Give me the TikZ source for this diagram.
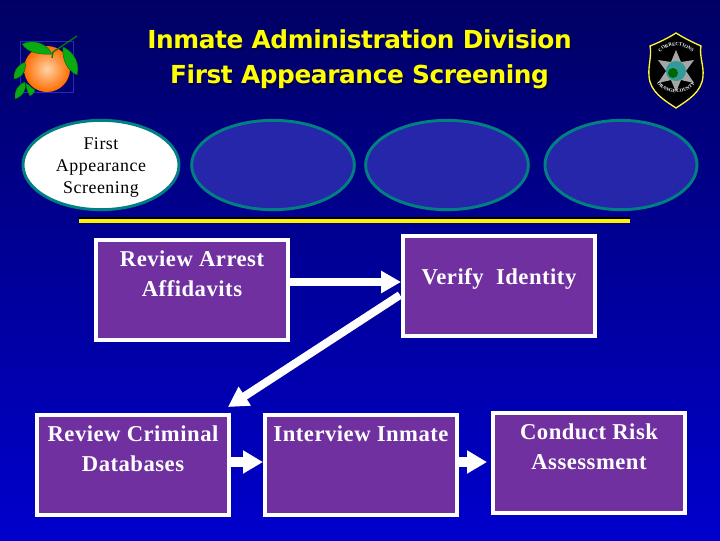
\documentclass[tikz,border=0pt]{standalone}
\usepackage{fontspec}
\setmainfont{Liberation Serif}
\newfontfamily\ttlfont{DejaVu Sans}
\usetikzlibrary{arrows.meta,shadings,decorations.text,calc,shapes.geometric}
\definecolor{bgtop}{RGB}{0,0,100}
\definecolor{bgbot}{RGB}{0,0,205}
\definecolor{boxpurple}{RGB}{112,48,160}
\definecolor{ringteal}{RGB}{0,128,128}
\definecolor{ovalblue}{RGB}{38,38,170}
\definecolor{titleyellow}{RGB}{255,255,0}
\definecolor{leafgreen}{RGB}{10,170,20}
\definecolor{logoblue}{RGB}{40,40,190}
\newcommand{\boxtxt}[2][0pt]{\parbox[c][69pt][t]{141pt}{\centering\vspace*{#1}#2}}
\tikzset{
  x=0.75pt,y=-0.75pt,
  flowbox/.style={draw=white,line width=3pt,fill=boxpurple,text=white,inner sep=0pt,
    minimum width=144pt,minimum height=75pt,font=\fontsize{17}{22}\selectfont\addfontfeature{LetterSpace=2.2}\bfseries},
  oval/.style={draw=ringteal,line width=2.2pt,fill=ovalblue,ellipse,inner sep=0pt},
  ttl/.style={font=\ttlfont\bfseries\fontsize{18.6}{26.5}\selectfont\addfontfeature{LetterSpace=-1.6},align=center},
  bigarrow/.style={draw=white,line width=6pt,-{Triangle[length=15pt,width=16pt,fill=white]}},
  smallarrow/.style={draw=white,line width=7pt,-{Triangle[length=15pt,width=16.5pt,fill=white]}},
  leaf/.style={fill=leafgreen,draw=black!60!green,line width=0.3pt},
}
\begin{document}
\begin{tikzpicture}
\useasboundingbox (0,0) rectangle (720,540);
\shade[top color=bgtop,bottom color=bgbot] (0,0) rectangle (720,540);

% title
\node[ttl,text=black!70!blue] (titleshadow) at (361.5,61.5) {Inmate Administration Division\\First Appearance Screening};
\node[ttl,text=titleyellow] (title) at (359.5,59.5) {Inmate Administration Division\\First Appearance Screening};

% orange logo
\draw[logoblue,line width=0.7pt] (20,41) rectangle (73,92);
\shade[inner color=orange!35!white,outer color=orange!85!red] (47,69) circle (23);
\draw[leaf] (22,44) .. controls (35,38) and (48,45) .. (52,54) .. controls (38,55) and (27,52) .. (22,44);
\draw[leaf] (63,47) .. controls (75,52) and (80,65) .. (77,75) .. controls (66,70) and (62,58) .. (63,47);
\draw[leaf] (25,62) .. controls (16,66) and (13,73) .. (14,79) .. controls (22,78) and (27,70) .. (25,62);
\draw[leaf] (25,82) .. controls (17,85) and (14,92) .. (15,99) .. controls (23,96) and (27,90) .. (25,82);
\draw[leaf] (26,83) .. controls (26,89) and (28,93) .. (30,96) .. controls (33,94) and (35,92) .. (35,90) .. controls (32,88) and (29,85) .. (26,83);
\draw[leafgreen!70!black,line width=1pt] (52,58) -- (53,52) -- (62,46) -- (77,36);

% badge
\draw[fill=black,draw=yellow!80!white,line width=1pt]
  (650,46) .. controls (660,42) and (668,38) .. (676,33) .. controls (684,38) and (692,42) .. (701,46)
  .. controls (699,55) and (704,66) .. (703,76) .. controls (702,92) and (688,100) .. (676,108)
  .. controls (664,100) and (650,92) .. (649,76) .. controls (648,66) and (652,55) .. (650,46) -- cycle;
\fill[black!35!white] (676,50) -- (681,62) -- (694,60) -- (686,71) -- (694,83) -- (681,80) -- (676,92) -- (671,80) -- (658,83) -- (666,71) -- (658,60) -- (671,62) -- cycle;
\fill[ringteal!80!white] (676,71) circle (10);
\fill[green!40!black] (673,73) circle (5);
\path[postaction={decorate,decoration={text along path,text align=center,
  text={|\fontsize{3.6}{4}\selectfont\bfseries\color{white}|CORRECTIONS}}}]
  (658,54) .. controls (668,43) and (684,43) .. (694,54);
\path[postaction={decorate,decoration={text along path,text align=center,
  text={|\fontsize{3.6}{4}\selectfont\bfseries\color{white}|ORANGE COUNTY}}}]
  (657,84) .. controls (666,95) and (686,95) .. (695,84);

% ovals
\node[oval,fill=white,minimum width=117pt,minimum height=67pt,inner sep=-14pt,
  font=\fontsize{13.4}{16.3}\selectfont\addfontfeature{LetterSpace=3}] (o1) at (101,165)
  {\parbox{72pt}{\centering\vspace*{4pt}First\\Appearance\\Screening}};
\node[oval,minimum width=122pt,minimum height=67pt] (o2) at (273,165) {};
\node[oval,minimum width=122pt,minimum height=67pt] (o3) at (447,165) {};
\node[oval,minimum width=114pt,minimum height=67pt] (o4) at (621,165) {};

% rule
\coordinate (ruleL) at (79,221);
\coordinate (ruleR) at (630,221);
\draw[black,line width=3pt] ($(ruleL)+(0,-2)$) -- ($(ruleR)+(0,-2)$);
\draw[yellow,line width=3pt] (ruleL) -- (ruleR);

% boxes
\node[flowbox] (b1) at (192,290) {\boxtxt[5.2pt]{Review Arrest\\Affidavits}};
\node[flowbox] (b2) at (499,286) {\boxtxt[21.5pt]{Verify~ Identity}};
\node[flowbox] (b3) at (133,465) {\boxtxt[5.2pt]{Review Criminal\\Databases}};
\node[flowbox] (b4) at (361,465) {\boxtxt[5.2pt]{Interview Inmate}};
\node[flowbox] (b5) at (589,463) {\boxtxt[5.2pt]{Conduct Risk\\Assessment}};

% connectors
\coordinate (a1s) at (b1.east |- 0,282);
\coordinate (a1e) at (b2.west |- 0,282);
\draw[bigarrow] (a1s) -- (a1e);
\coordinate (a2s) at (400,295);
\coordinate (a2e) at (228,407);
\draw[bigarrow] (a2s) -- (a2e);
\coordinate (a3s) at (b3.east |- 0,462);
\coordinate (a3e) at (b4.west |- 0,462);
\draw[smallarrow] (a3s) -- (a3e);
\coordinate (a4s) at (b4.east |- 0,462);
\coordinate (a4e) at (487,462);
\draw[smallarrow] (a4s) -- (a4e);
\end{tikzpicture}
\end{document}
